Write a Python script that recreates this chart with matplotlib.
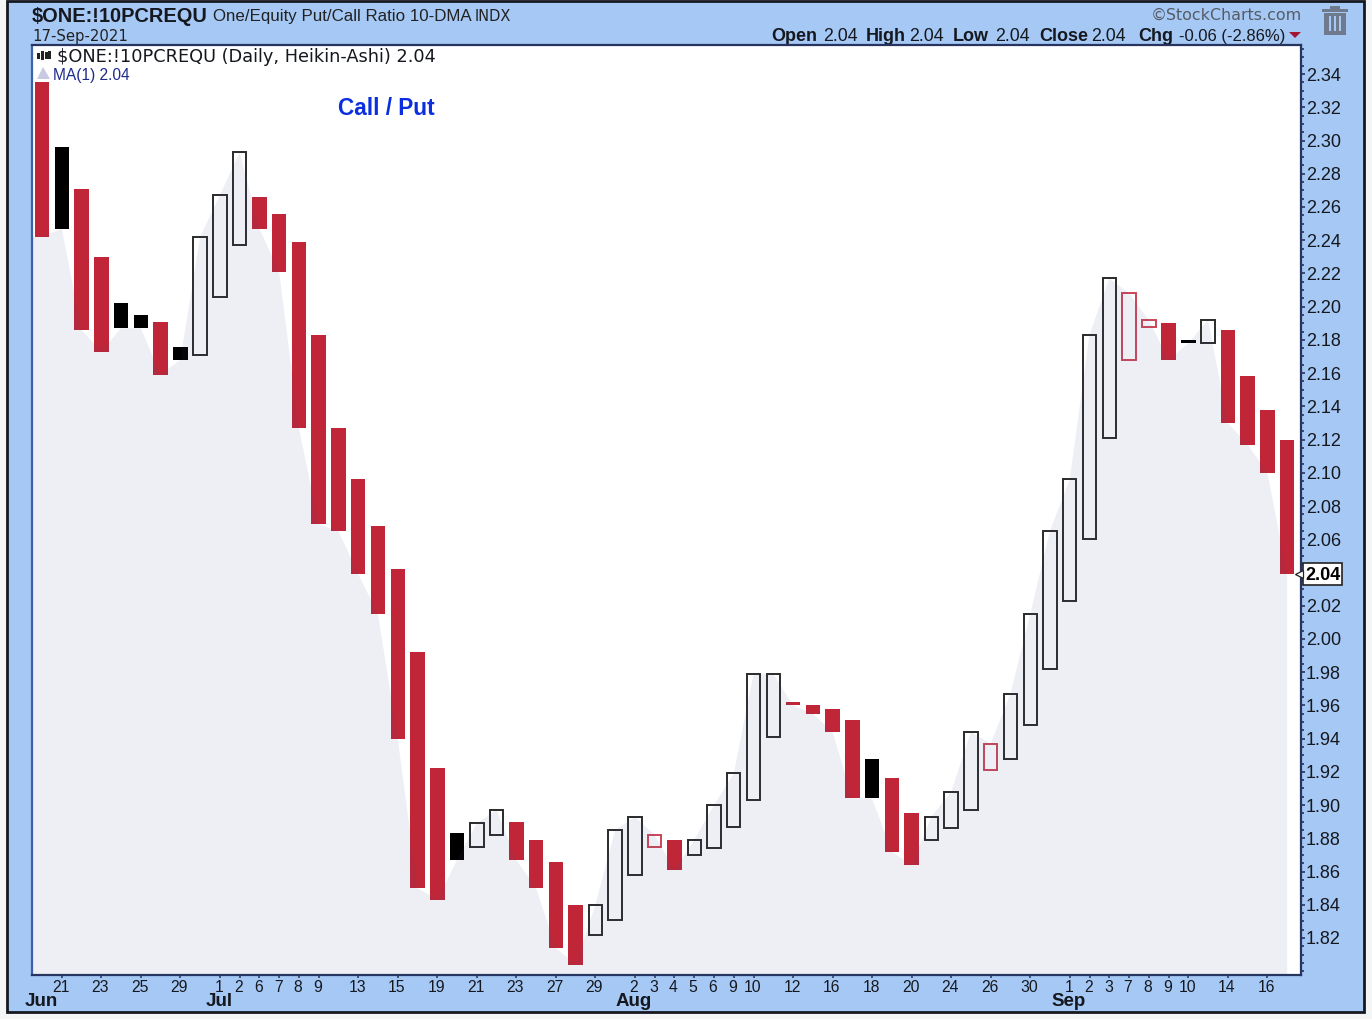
import matplotlib
matplotlib.use('Agg')
import matplotlib.pyplot as plt
from matplotlib.patches import Rectangle, Polygon
from matplotlib.transforms import ScaledTranslation

# Heikin-Ashi bars (top and bottom of each body)
bar_top = [2.335, 2.296, 2.271, 2.230, 2.202, 2.195, 2.191, 2.176, 2.242, 2.267, 2.293,
           2.266, 2.256, 2.239, 2.183, 2.127, 2.096, 2.068, 2.042, 1.992, 1.922, 1.883,
           1.889, 1.897, 1.890, 1.879, 1.866, 1.840, 1.840, 1.885, 1.893, 1.882, 1.879,
           1.879, 1.900, 1.919, 1.979, 1.979, 1.962, 1.960, 1.958, 1.951, 1.928, 1.916,
           1.895, 1.893, 1.908, 1.944, 1.937, 1.967, 2.015, 2.065, 2.096, 2.183, 2.217,
           2.208, 2.192, 2.190, 2.180, 2.192, 2.186, 2.158, 2.138, 2.120]
bar_bottom = [2.242, 2.247, 2.186, 2.173, 2.187, 2.187, 2.159, 2.168, 2.171, 2.206, 2.237,
              2.247, 2.221, 2.127, 2.069, 2.065, 2.039, 2.015, 1.940, 1.850, 1.843, 1.867,
              1.875, 1.882, 1.867, 1.850, 1.814, 1.804, 1.822, 1.831, 1.858, 1.875, 1.861,
              1.870, 1.874, 1.887, 1.903, 1.941, 1.960, 1.955, 1.944, 1.904, 1.904, 1.872,
              1.864, 1.879, 1.886, 1.897, 1.921, 1.928, 1.948, 1.982, 2.023, 2.060, 2.121,
              2.168, 2.188, 2.168, 2.178, 2.178, 2.130, 2.117, 2.100, 2.039]
# r = red body, k = black body, h = hollow black, o = hollow red
bar_kind = list('rkrrkkrkhhhrrrrrrrrrrkhhrrrrhhhorhhhhhrrrrkrrhhhohhhhhhoorkhrrrr')

# MA(1) area, i.e. the daily closes
closes = [2.242, 2.247, 2.186, 2.173, 2.187, 2.187, 2.159, 2.168, 2.242, 2.267, 2.293,
          2.247, 2.221, 2.127, 2.069, 2.065, 2.039, 2.015, 1.940, 1.850, 1.843, 1.867,
          1.889, 1.897, 1.867, 1.850, 1.814, 1.804, 1.840, 1.885, 1.893, 1.882, 1.861,
          1.879, 1.900, 1.919, 1.979, 1.979, 1.960, 1.955, 1.944, 1.904, 1.904, 1.872,
          1.864, 1.893, 1.908, 1.944, 1.937, 1.967, 2.015, 2.065, 2.096, 2.183, 2.217,
          2.208, 2.192, 2.168, 2.178, 2.192, 2.130, 2.117, 2.100, 2.039]

day_pos = [1, 3, 5, 7, 9, 10, 11, 12, 13, 14, 16, 18, 20, 22, 24, 26, 28, 30, 31, 32, 33, 34,
           35, 36, 38, 40, 42, 44, 46, 48, 50, 52, 53, 54, 55, 56, 57, 58, 60, 62]
day_labels = ['21', '23', '25', '29', '1', '2', '6', '7', '8', '9', '13', '15', '19', '21',
              '23', '27', '29', '2', '3', '4', '5', '6', '9', '10', '12', '16', '18', '20',
              '24', '26', '30', '1', '2', '3', '7', '8', '9', '10', '14', '16']
month_pos = [0, 9, 30, 52]
month_labels = ['Jun', 'Jul', 'Aug', 'Sep']
y_ticks = [1.82, 1.84, 1.86, 1.88, 1.90, 1.92, 1.94, 1.96, 1.98, 2.00, 2.02, 2.04, 2.06, 2.08,
           2.10, 2.12, 2.14, 2.16, 2.18, 2.20, 2.22, 2.24, 2.26, 2.28, 2.30, 2.32, 2.34]

W, H = 1372, 1020
RED = '#c12638'
NAVY = '#26345f'
FONT = 'Liberation Sans'

fig = plt.figure(figsize=(W / 100, H / 100), dpi=100, facecolor='#f4f5f7')

# panel behind the chart, in pixel coordinates
bg = fig.add_axes([0, 0, 1, 1])
bg.set_xlim(0, W)
bg.set_ylim(H, 0)
bg.axis('off')
bg.add_patch(Rectangle((7, 2), 1357, 1011, facecolor='#a6c8f4', edgecolor='#15181f', linewidth=2))


def label(x, y, s, size=12, weight='normal', color='#15181f', ha='left', family=FONT):
    bg.text(x, y, s, fontsize=size, fontweight=weight, color=color, ha=ha, va='baseline',
            family=family, parse_math=False)


label(32, 22, '$ONE:!10PCREQU', 14.4, 'bold')
label(213, 21, 'One/Equity Put/Call Ratio 10-DMA', 12.2, color='#222222')
label(475, 21, 'INDX', 10.5, color='#222222', family='DejaVu Sans')
label(32, 41, '17-Sep-2021', 10.7, color='#222222', family='DejaVu Sans')
label(1302, 20, '©StockCharts.com', 11.4, color='#555c66', ha='right', family='DejaVu Sans')

for x, s, size, bold in [(771, 'Open', 13, True), (823, '2.04', 12.8, False), (866, 'High', 13, True),
                         (909, '2.04', 12.8, False), (953, 'Low', 13, True), (995, '2.04', 12.8, False),
                         (1039, 'Close', 13, True), (1091, '2.04', 12.8, False), (1138, 'Chg', 13, True),
                         (1179, '-0.06 (-2.86%)', 12, False)]:
    label(x, 41, s, size, 'bold' if bold else 'normal')
bg.add_patch(Polygon([(1289, 33), (1301, 33), (1295, 39)], facecolor='#a31530'))

# trash icon
bg.add_patch(Rectangle((1322, 10), 26, 2.5, facecolor='#6f7b8c'))
bg.add_patch(Rectangle((1330, 7), 10, 3, facecolor='#6f7b8c'))
bg.add_patch(Rectangle((1324, 14), 22, 22, facecolor='#6f7b8c'))
for sx in (1329, 1334, 1339):
    bg.add_patch(Rectangle((sx, 17), 2, 15, facecolor='#a6c8f4'))

# main chart
ax = fig.add_axes([32 / W, 1 - 976 / H, (1301 - 32) / W, (976 - 46) / H], facecolor='white')
ax.set_xlim(-0.506, 63.7)
ax.set_ylim(1.7977, 2.3575)

for i in range(len(bar_top)):
    kind = bar_kind[i]
    height = bar_top[i] - bar_bottom[i]
    if kind == 'r':
        ax.bar(i, height, bottom=bar_bottom[i], width=0.73, color=RED, zorder=2)
    elif kind == 'k':
        ax.bar(i, height, bottom=bar_bottom[i], width=0.73, color='black', zorder=2)
    elif kind == 'h':
        ax.bar(i, height, bottom=bar_bottom[i], width=0.68, facecolor='none',
               edgecolor='#2a2a2a', linewidth=1.4, zorder=2)
    else:
        ax.bar(i, height, bottom=bar_bottom[i], width=0.68, facecolor='none',
               edgecolor='#cc4458', linewidth=1.4, zorder=2)

# area sits over the bars, very faint
area_x = [-0.506] + list(range(len(closes)))
area_y = [closes[0]] + closes
ax.fill_between(area_x, area_y, 1.7977, facecolor='#3c4a8c', alpha=0.085, linewidth=0, zorder=3)

for side in ax.spines.values():
    side.set_color(NAVY)
    side.set_linewidth(1.6)
ax.spines['left'].set_color('#3d62a8')

ax.yaxis.tick_right()
ax.set_yticks(y_ticks)
ax.set_yticklabels(['%.2f' % v for v in y_ticks], fontsize=13, family=FONT, color='#15181f')
ax.set_yticks([v / 1000 for v in range(1800, 2356, 5)], minor=True)
ax.tick_params(axis='y', which='major', length=3, width=1.2, color=NAVY, pad=0.5, direction='out')
ax.tick_params(axis='y', which='minor', length=2, width=1.2, color=NAVY, direction='out')
for lbl in ax.get_yticklabels():
    lbl.set_transform(lbl.get_transform() + ScaledTranslation(0, 0.01, fig.dpi_scale_trans))

ax.set_xticks(day_pos)
ax.set_xticklabels(day_labels, fontsize=11.3, family=FONT, color='#15181f')
ax.tick_params(axis='x', length=2.5, width=1.1, color=NAVY, pad=0.5)
for lbl in ax.get_xticklabels():
    lbl.set_transform(lbl.get_transform() + ScaledTranslation(-0.01, 0, fig.dpi_scale_trans))

for pos, name in zip(month_pos, month_labels):
    ax.annotate(name, (pos, 0), xycoords=('data', 'axes fraction'), xytext=(-1, -30),
                textcoords='offset pixels', ha='center', va='baseline', fontsize=13.5,
                fontweight='bold', family=FONT, color='#15181f', annotation_clip=False)

# last value tag on the axis
ax.annotate('%.2f' % closes[-1], (63.7, closes[-1]), xytext=(4, 0), textcoords='offset pixels',
            ha='left', va='center', fontsize=13, fontweight='bold', family=FONT, color='black',
            annotation_clip=False, zorder=6,
            bbox=dict(boxstyle='square,pad=0.12', facecolor='white', edgecolor='#222222', linewidth=1.2))
ax.plot([63.62], [closes[-1]], marker='<', markersize=6, markerfacecolor='white',
        markeredgecolor='#222222', markeredgewidth=0.9, clip_on=False, zorder=7)

# legend lines inside the plot
ax.annotate('$ONE:!10PCREQU (Daily, Heikin-Ashi) 2.04', (57 - 32, 976 - 62), xycoords='axes pixels',
            fontsize=12.8, family='DejaVu Sans', color='#15181f', va='baseline', parse_math=False)
ax.annotate('MA(1) 2.04', (53 - 32, 976 - 80), xycoords='axes pixels', fontsize=11.2, family=FONT,
            color='#1c2a8c', va='baseline')
ax.annotate('Call / Put', (338 - 32, 976 - 115), xycoords='axes pixels', fontsize=16.3, family=FONT,
            fontweight='bold', color='#0a2ee0', va='baseline')

# small legend icons, on a see-through layer in pixel coordinates
top = fig.add_axes([0, 0, 1, 1])
top.set_xlim(0, W)
top.set_ylim(H, 0)
top.axis('off')
top.patch.set_visible(False)
for ix, iy, ih in [(37, 54, 6), (41, 52, 9), (45, 53, 7), (48, 52, 8)]:
    top.add_patch(Rectangle((ix, iy), 2.5, ih, facecolor='#222222'))
top.add_patch(Polygon([(37, 80), (43, 68), (50, 80)], facecolor='#c9c9e4'))

fig.savefig('out.png', dpi=100, facecolor=fig.get_facecolor())
